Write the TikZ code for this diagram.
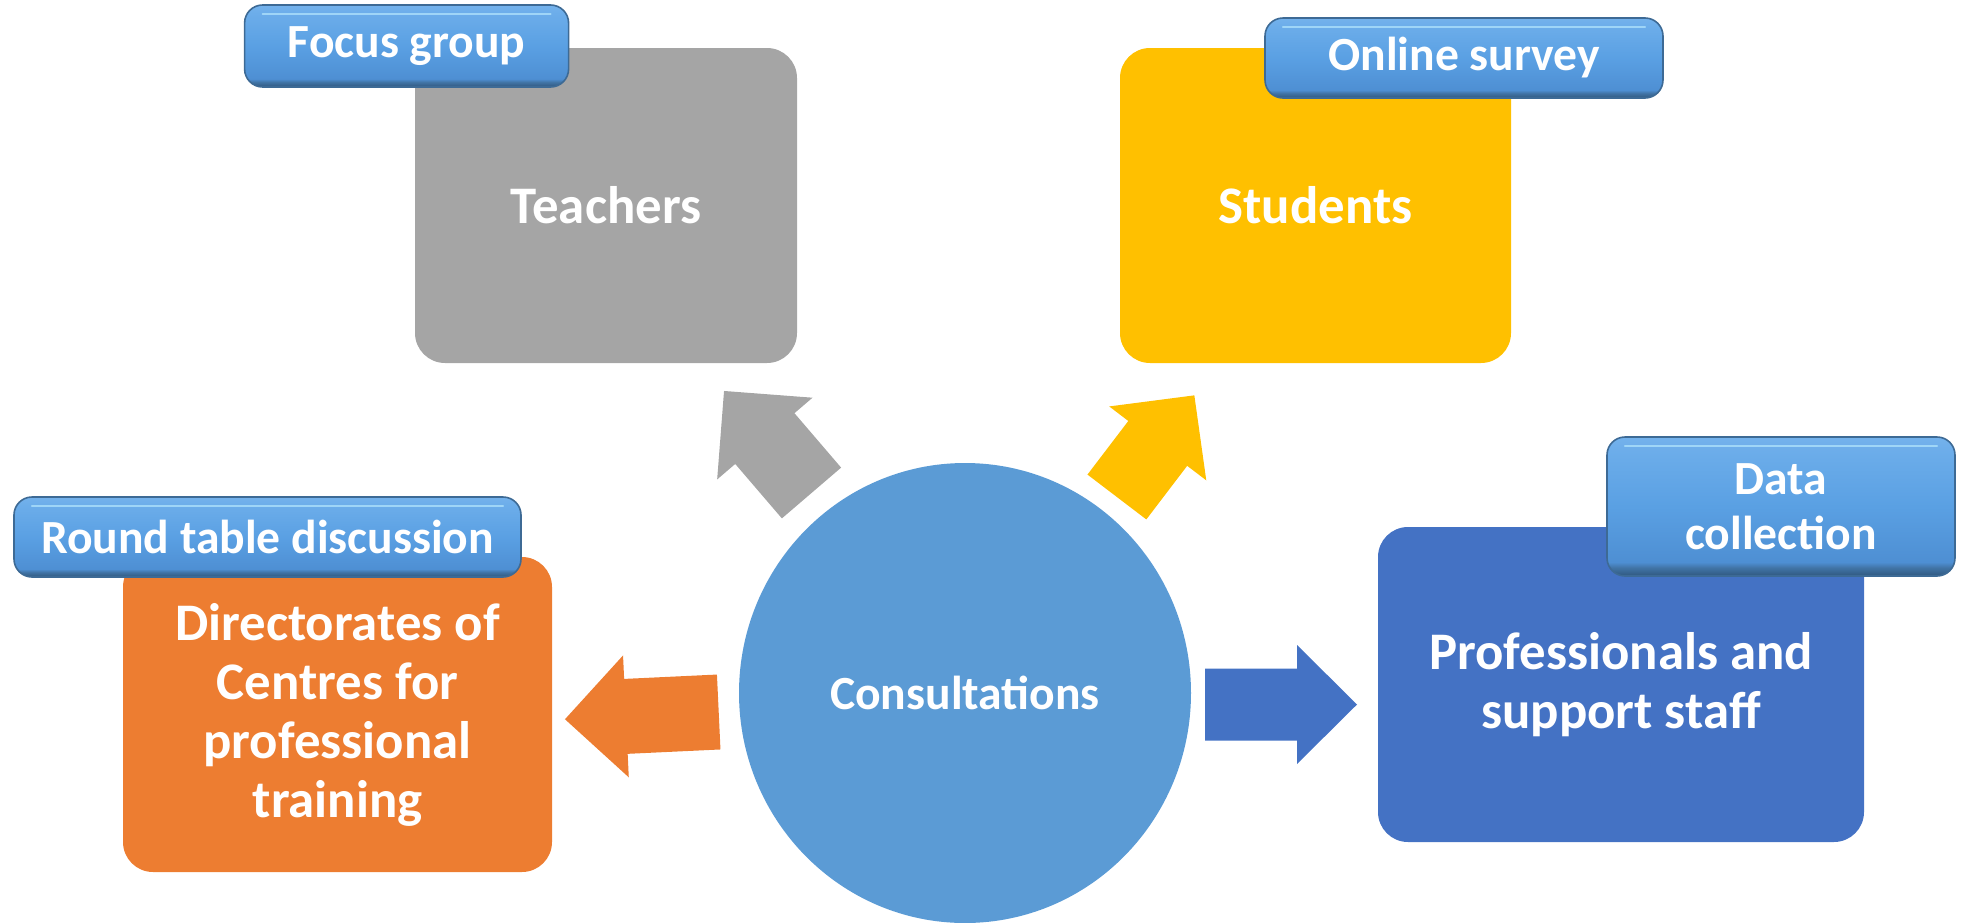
\documentclass[tikz,border=0pt]{standalone}
\usepackage{fontspec}
\setmainfont{Carlito}
\usetikzlibrary{shapes.geometric}
\definecolor{cGray}{HTML}{A5A5A5}
\definecolor{cGold}{HTML}{FFC000}
\definecolor{cOrange}{HTML}{ED7D31}
\definecolor{cBlue}{HTML}{4472C4}
\definecolor{cCirc}{HTML}{5B9BD5}
\definecolor{lA}{HTML}{30587F}
\definecolor{lB}{HTML}{4174A6}
\definecolor{lC}{HTML}{4E8FD3}
\definecolor{lD}{HTML}{5AA0E3}
\definecolor{lE}{HTML}{6CADEA}
\definecolor{lF}{HTML}{74B2EC}
\definecolor{lEdge}{HTML}{3D6A95}
\definecolor{lHi}{HTML}{A8DDFA}
\pgfdeclareverticalshading{lblshade}{100bp}{color(0bp)=(lA); color(25bp)=(lA); color(28bp)=(lB); color(30bp)=(lC); color(50bp)=(lD); color(70bp)=(lE); color(75bp)=(lF); color(100bp)=(lF)}
% block arrow: colour, start x, start y, angle, length, shaft half width, head half width, head length
\newcommand{\blockarr}[8]{%
  \fill[#1, shift={(#2,#3)}, rotate=#4] (0,-#6) -- ({#5-#8},-#6) -- ({#5-#8},-#7) -- (#5,0)
    -- ({#5-#8},#7) -- ({#5-#8},#6) -- (0,#6) -- cycle;}
\begin{document}
\begin{tikzpicture}[x=0.5pt,y=-0.5pt,
  box/.style={rectangle, rounded corners=15pt, inner sep=0pt, text=white, align=center,
    font=\bfseries\fontsize{26.4}{29.5}\selectfont},
  lbl/.style={rectangle, rounded corners=9pt, inner sep=0pt, text=white, align=center,
    font=\bfseries\fontsize{23.8}{27.5}\selectfont, shade, shading=lblshade,
    draw=lEdge, line width=0.8pt,
    path picture={\draw[lHi, line width=1.1pt, line cap=round, opacity=0.85]
      ([xshift=9pt,yshift=-4.5pt]path picture bounding box.north west) --
      ([xshift=-9pt,yshift=-4.5pt]path picture bounding box.north east);}},
]
\useasboundingbox (0,0) rectangle (1967,922);

% centre
\node[ellipse, fill=cCirc, inner sep=0pt, minimum width=226pt, minimum height=230pt,
  text=white, font=\bfseries\fontsize{23.8}{27.5}\selectfont] (circ) at (965,693) {Consultations};

% arrows
\blockarr{cGray}{811.5}{493}{130.6}{134.4}{39}{62.8}{62.7}
\blockarr{cGold}{1116.9}{497}{52.7}{127.8}{37}{61}{60.4}
\blockarr{cOrange}{718.7}{712}{182.7}{153.9}{37.5}{61}{61}
\blockarr{cBlue}{1205}{704.5}{0}{152}{36}{59.5}{60}

% boxes
\node[box, fill=cGray, minimum width=191pt, minimum height=157.5pt] (teach) at (606,205.5) {Teachers};
\node[box, fill=cGold, minimum width=195.5pt, minimum height=157.5pt] (stud) at (1315.5,205.5) {Students};
\node[box, fill=cOrange, minimum width=214.5pt, minimum height=157.5pt] (dir) at (337.5,714.5)
  {Directorates of\\Centres for\\professional\\training};
\node[box, fill=cBlue, minimum width=243pt, minimum height=157.5pt] (prof) at (1621,684.5)
  {Professionals and\\support staff};

% labels
\node[lbl, minimum width=162pt, minimum height=41pt] (fg) at (406.6,46) {Focus group};
\node[lbl, minimum width=199pt, minimum height=40pt] (os) at (1464,58) {Online survey};
\node[lbl, minimum width=253.5pt, minimum height=40pt] (rt) at (267.5,537) {Round table discussion};
\node[lbl, minimum width=174pt, minimum height=69.5pt] (dc) at (1781,506.5) {Data\\collection};
\end{tikzpicture}
\end{document}
